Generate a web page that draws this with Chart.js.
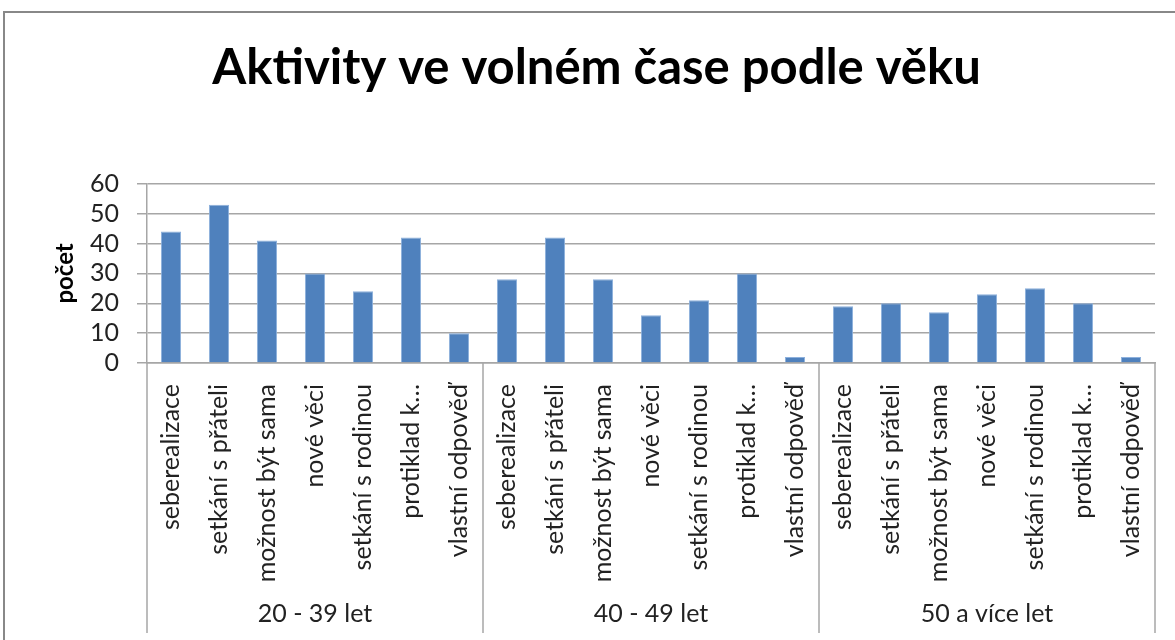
<!DOCTYPE html>
<html>
<head>
<meta charset="utf-8">
<script src="https://cdn.jsdelivr.net/npm/chart.js@4/dist/chart.umd.min.js"></script>
<style>
  html, body { margin: 0; padding: 0; background: #fff; }
  #wrap { width: 1175px; height: 640px; }
</style>
</head>
<body>
<div id="wrap"><canvas id="chart" width="1175" height="640"></canvas></div>
<script>
// categories, repeated in each age group
const activities = ['seberealizace', 'setkání s přáteli', 'možnost být sama', 'nové věci', 'setkání s rodinou', 'protiklad k…', 'vlastní odpověď'];
const ageGroups = ['20 - 39 let', '40 - 49 let', '50 a více let'];

const age20_39 = [44, 53, 41, 30, 24, 42, 10];
const age40_49 = [28, 42, 28, 16, 21, 30, 2];
const age50plus = [19, 20, 17, 23, 25, 20, 2];

const yTicks = [0, 10, 20, 30, 40, 50, 60];

const labels = [].concat(activities, activities, activities);
const values = [].concat(age20_39, age40_49, age50plus);

const FONT = 'Lato, "Open Sans", sans-serif';

// frame + group separators and group names under the category labels
const groupAxis = {
  id: 'groupAxis',
  beforeDraw(chart) {
    const ctx = chart.ctx;
    ctx.save();
    ctx.strokeStyle = '#888888';
    ctx.lineWidth = 2;
    ctx.strokeRect(4, 12, chart.width + 20, chart.height + 20);
    ctx.restore();
  },
  afterDraw(chart) {
    const ctx = chart.ctx;
    const x = chart.scales.x;
    const bottom = chart.chartArea.bottom;
    ctx.save();
    ctx.strokeStyle = '#a6a6a6';
    ctx.lineWidth = 1.5;
    for (let g = 0; g <= ageGroups.length; g++) {
      const px = Math.round(x.getPixelForValue(g * activities.length - 0.5));
      ctx.beginPath();
      ctx.moveTo(px, bottom);
      ctx.lineTo(px, bottom + 270);
      ctx.stroke();
    }
    ctx.fillStyle = '#222';
    ctx.font = '25px ' + FONT;
    ctx.textAlign = 'center';
    ctx.textBaseline = 'middle';
    ageGroups.forEach((name, g) => {
      const a = x.getPixelForValue(g * activities.length - 0.5);
      const b = x.getPixelForValue((g + 1) * activities.length - 0.5);
      ctx.fillText(name, (a + b) / 2, bottom + 251);
    });
    ctx.restore();
  }
};

new Chart(document.getElementById('chart'), {
  type: 'bar',
  data: {
    labels,
    datasets: [{
      label: 'počet',
      data: values,
      backgroundColor: '#4f81bd',
      borderColor: '#8db0dc',
      borderWidth: 1,
      barPercentage: 0.42,
      categoryPercentage: 1
    }]
  },
  options: {
    responsive: false,
    animation: false,
    layout: { padding: { left: 38, right: 20, top: 0, bottom: 0 } },
    plugins: {
      legend: { display: false },
      tooltip: { enabled: false },
      title: {
        display: true,
        text: 'Aktivity ve volném čase podle věku',
        color: '#000',
        font: { family: FONT, size: 49, weight: 'bold' },
        padding: { top: 39, bottom: 86 }
      }
    },
    scales: {
      x: {
        offset: true,
        grid: { display: false },
        border: { display: true, color: '#a6a6a6', width: 1.5 },
        ticks: {
          color: '#222',
          font: { family: FONT, size: 25 },
          maxRotation: 90,
          minRotation: 90,
          autoSkip: false,
          padding: 13
        },
        afterFit: s => { s.height = 277; }
      },
      y: {
        min: 0,
        max: 60,
        afterBuildTicks: s => { s.ticks = yTicks.map(v => ({ value: v })); },
        grid: { color: '#a6a6a6', lineWidth: 1.5, tickLength: 10 },
        border: { display: true, color: '#a6a6a6', width: 1.5 },
        ticks: {
          color: '#222',
          font: { family: FONT, size: 25 },
          autoSkip: false,
          padding: 18
        },
        title: {
          display: true,
          text: 'počet',
          color: '#000',
          font: { family: FONT, size: 24, weight: 'bold' },
          padding: { top: 13, bottom: 0 }
        },
        afterFit: s => { s.width = 109; }
      }
    }
  },
  plugins: [groupAxis]
});
</script>
</body>
</html>
